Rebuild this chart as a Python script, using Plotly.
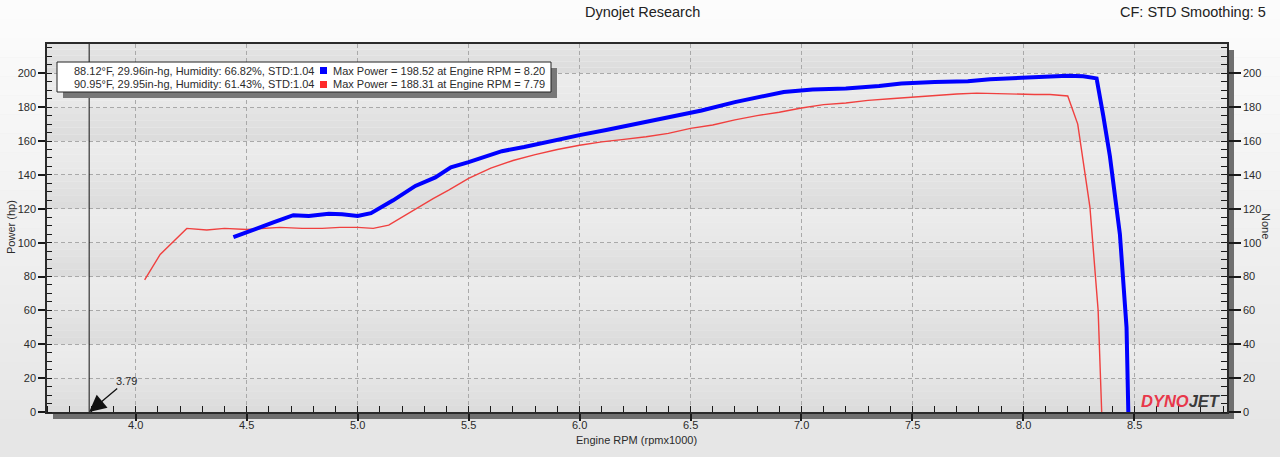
import plotly.graph_objects as go

# ---------------- data ----------------
blue_rpm = [4.44, 4.54, 4.62, 4.71, 4.78, 4.87, 4.93, 5.00, 5.06, 5.16, 5.26, 5.35, 5.42,
            5.50, 5.58, 5.65, 5.75, 5.85, 6.00, 6.12, 6.25, 6.40, 6.55, 6.70, 6.82, 6.92,
            7.05, 7.20, 7.35, 7.45, 7.60, 7.75, 7.85, 7.95, 8.10, 8.20, 8.27, 8.33, 8.36,
            8.39, 8.435, 8.465, 8.473]
blue_hp = [103.2, 108.4, 112.0, 116.2, 115.7, 117.0, 116.8, 115.7, 117.4, 125.0, 133.5, 138.5,
           144.5, 147.5, 151.0, 154.0, 156.5, 159.5, 163.5, 166.5, 170.0, 174.0, 178.0, 183.0,
           186.5, 189.0, 190.5, 191.0, 192.5, 194.0, 194.8, 195.3, 196.5, 197.2, 198.0, 198.5,
           198.3, 197.0, 175.0, 151.0, 105.0, 50.0, 0.0]

red_rpm = [4.04, 4.11, 4.23, 4.32, 4.40, 4.50, 4.65, 4.75, 4.84, 4.92, 5.00, 5.07, 5.14,
           5.25, 5.34, 5.41, 5.50, 5.60, 5.70, 5.80, 5.90, 6.00, 6.10, 6.20, 6.30, 6.40,
           6.50, 6.60, 6.70, 6.80, 6.90, 7.00, 7.10, 7.20, 7.30, 7.40, 7.50, 7.60, 7.70,
           7.79, 7.90, 7.95, 8.05, 8.12, 8.20, 8.245, 8.30, 8.337, 8.353]
red_hp = [78.0, 93.0, 108.4, 107.5, 108.4, 107.8, 109.0, 108.4, 108.4, 109.0, 109.0, 108.4,
          110.3, 119.0, 126.0, 131.0, 138.0, 144.0, 148.5, 152.0, 155.0, 157.5, 159.5, 161.0,
          162.5, 164.5, 167.5, 169.5, 172.5, 175.0, 177.0, 179.5, 181.5, 182.5, 184.0, 185.0,
          186.0, 187.0, 187.8, 188.3, 187.8, 188.0, 187.5, 187.5, 186.6, 170.0, 121.0, 60.0, 0.0]

run_temp = ["88.12", "90.95"]
run_press = ["29.96", "29.95"]
run_hum = ["66.82", "61.43"]
run_std = ["1.04", "1.04"]
run_maxpow = ["198.52", "188.31"]
run_maxrpm = ["8.20", "7.79"]
run_colors = ["#0000ff", "#ff2a2a"]

cursor_rpm = 3.79
x_ticks = [4.0, 4.5, 5.0, 5.5, 6.0, 6.5, 7.0, 7.5, 8.0, 8.5]
y_ticks = [0, 20, 40, 60, 80, 100, 120, 140, 160, 180, 200]

# ---------------- geometry helpers ----------------
W, H = 1280, 457
L, R, T, B = 47, 53, 44, 45
PW, PH = W - L - R, H - T - B


def px(x):
    return (x - L) / PW


def py(y):
    return (H - B - y) / PH


FONT = "Liberation Sans"
TXT = "#2b2b2b"

fig = go.Figure()

fig.add_trace(go.Scatter(x=red_rpm, y=red_hp, mode="lines",
                         line=dict(color="#f0403f", width=1.4), hoverinfo="skip",
                         showlegend=False))
fig.add_trace(go.Scatter(x=blue_rpm, y=blue_hp, mode="lines",
                         line=dict(color="#0000ff", width=4), hoverinfo="skip",
                         showlegend=False))
# invisible trace to activate right axis
fig.add_trace(go.Scatter(x=blue_rpm[:1], y=blue_hp[:1], yaxis="y2", mode="markers",
                         marker=dict(opacity=0), hoverinfo="skip", showlegend=False))

shapes = []
# paper gradient background
n = 24
for i in range(n):
    t = i / (n - 1)
    c = int(252 - t * 22)
    shapes.append(dict(type="rect", xref="paper", yref="paper", layer="below",
                       x0=px(0), x1=px(W), y0=py(H * (i + 1) / n), y1=py(H * i / n),
                       fillcolor=f"rgb({c},{c},{c})", line=dict(width=0)))
# shadows of plot frame
shapes.append(dict(type="rect", xref="paper", yref="paper", layer="below",
                   x0=px(53), x1=px(1234), y0=py(419), y1=py(412),
                   fillcolor="#6f6f6f", line=dict(width=0)))
shapes.append(dict(type="rect", xref="paper", yref="paper", layer="below",
                   x0=px(1227), x1=px(1234), y0=py(419), y1=py(50),
                   fillcolor="#6f6f6f", line=dict(width=0)))
# alternating bands (each with a soft vertical gradient)
ymax = PH / 1.6935
for k in range(11):
    lo = k * 20
    hi = min(lo + 20, ymax)
    steps = 5
    for s in range(steps):
        a = lo + (hi - lo) * s / steps
        b = lo + (hi - lo) * (s + 1) / steps
        if k % 2 == 0:
            c = int(220 + 8 * s / (steps - 1))
        else:
            c = int(232 + 4 * s / (steps - 1))
        shapes.append(dict(type="rect", xref="x domain", yref="y", layer="below",
                           x0=0, x1=1, y0=a, y1=b,
                           fillcolor=f"rgb({c},{c},{c})", line=dict(width=0)))
# cursor line
shapes.append(dict(type="line", xref="x", yref="y domain", x0=cursor_rpm, x1=cursor_rpm,
                   y0=0, y1=1, line=dict(color="#111111", width=1)))
# legend box shadow + box
shapes.append(dict(type="rect", xref="paper", yref="paper",
                   x0=px(63), x1=px(557), y0=py(98), y1=py(68),
                   fillcolor="#777777", line=dict(width=0)))
shapes.append(dict(type="rect", xref="paper", yref="paper",
                   x0=px(57), x1=px(551), y0=py(92), y1=py(62),
                   fillcolor="#ffffff", line=dict(color="#222222", width=1)))

annotations = []
line_y = [70.5, 84.5]
for i in range(2):
    left = f"{run_temp[i]}°F, {run_press[i]}in-hg, Humidity: {run_hum[i]}%, STD:{run_std[i]}"
    right = f"Max Power = {run_maxpow[i]} at Engine RPM = {run_maxrpm[i]}"
    annotations.append(dict(xref="paper", yref="paper", x=px(316), y=py(line_y[i]),
                            xanchor="right", yanchor="middle", text=left, showarrow=False,
                            font=dict(family=FONT, size=11, color=TXT)))
    annotations.append(dict(xref="paper", yref="paper", x=px(331), y=py(line_y[i]),
                            xanchor="left", yanchor="middle", text=right, showarrow=False,
                            font=dict(family=FONT, size=11, color=TXT)))
    shapes.append(dict(type="rect", xref="paper", yref="paper",
                       x0=px(320), x1=px(327), y0=py(line_y[i] + 3.5), y1=py(line_y[i] - 3.5),
                       fillcolor=run_colors[i], line=dict(width=0)))

# x tick labels
for v in x_ticks:
    annotations.append(dict(xref="x", yref="paper", x=v, y=py(425.5), xanchor="center",
                            yanchor="middle", text=f"{v:.1f}", showarrow=False,
                            font=dict(family=FONT, size=11, color=TXT)))

# titles
annotations.append(dict(xref="paper", yref="paper", x=px(642), y=py(12), xanchor="center",
                        yanchor="middle", text="Dynojet Research", showarrow=False,
                        font=dict(family=FONT, size=14.5, color="#222222")))
annotations.append(dict(xref="paper", yref="paper", x=px(1268), y=py(12), xanchor="right",
                        yanchor="middle", text="CF: STD Smoothing: 5", showarrow=False,
                        font=dict(family=FONT, size=14.5, color="#222222")))
annotations.append(dict(xref="paper", yref="paper", x=px(636), y=py(439.5), xanchor="center",
                        yanchor="middle", text="Engine RPM (rpmx1000)", showarrow=False,
                        font=dict(family=FONT, size=11, color=TXT)))
annotations.append(dict(xref="paper", yref="paper", x=px(11), y=py(227), xanchor="center",
                        yanchor="middle", text="Power (hp)", textangle=-90, showarrow=False,
                        font=dict(family=FONT, size=11, color=TXT)))
annotations.append(dict(xref="paper", yref="paper", x=px(1266), y=py(226), xanchor="center",
                        yanchor="middle", text="None", textangle=90, showarrow=False,
                        font=dict(family=FONT, size=11, color=TXT)))
# cursor annotation
annotations.append(dict(xref="x", yref="y", x=cursor_rpm, y=0, text=f"{cursor_rpm:.2f}",
                        showarrow=True, ax=37, ay=-31, arrowhead=2, arrowsize=2.6,
                        arrowwidth=1.3, arrowcolor="#111111", standoff=0,
                        font=dict(family=FONT, size=11, color=TXT)))
# logo
annotations.append(dict(xref="paper", yref="paper", x=px(1181), y=py(401), xanchor="center",
                        yanchor="middle", showarrow=False,
                        text='<b><i><span style="color:#e8374a">DYNO</span>'
                             '<span style="color:#3a3a3a">JET</span></i></b>',
                        font=dict(family=FONT, size=16.5)))

axis_common = dict(showline=True, linecolor="#2a2a2a", linewidth=1.5,
                   tickfont=dict(family=FONT, size=11, color=TXT), tickcolor="#1a1a1a",
                   zeroline=False)

fig.update_layout(
    width=W, height=H,
    margin=dict(l=L, r=R, t=T, b=B, pad=0),
    paper_bgcolor="#ececec", plot_bgcolor="#e3e3e3",
    showlegend=False,
    shapes=shapes, annotations=annotations,
    xaxis=dict(range=[3.6, 3.6 + PW / 221.9], tickmode="array", tickvals=x_ticks,
               showticklabels=False, ticks="outside", ticklen=7,
               tickwidth=1.5, mirror=True,
               showgrid=True, gridcolor="#a9a9a9", griddash="4px,3px", gridwidth=1,
               minor=dict(dtick=0.1, tick0=3.6, ticks="inside", ticklen=6, tickwidth=1.2,
                          tickcolor="#1a1a1a", showgrid=False),
               **axis_common),
    yaxis=dict(range=[0, ymax], tickmode="array", tickvals=y_ticks,
               ticks="outside", ticklen=7, tickwidth=1.5,
               showgrid=True, gridcolor="#a9a9a9", griddash="4px,3px", gridwidth=1,
               minor=dict(dtick=5, tick0=0, ticks="inside", ticklen=5, tickwidth=1.2,
                          tickcolor="#1a1a1a", showgrid=False),
               **axis_common),
    yaxis2=dict(range=[0, ymax], overlaying="y", side="right", tickmode="array",
                tickvals=y_ticks, ticks="outside", ticklen=12, tickwidth=1.5, showgrid=False,
                minor=dict(dtick=5, tick0=0, ticks="inside", ticklen=6, tickwidth=1.2,
                           tickcolor="#1a1a1a", showgrid=False),
                **axis_common),
)

fig.write_html("out.html")
